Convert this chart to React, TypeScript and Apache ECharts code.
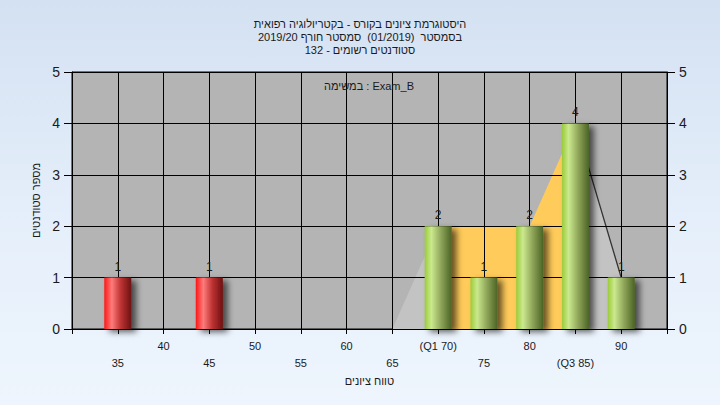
import React, { useEffect, useRef } from "react";
import * as echarts from "echarts";

const titleLines = [
  "היסטוגרמת ציונים בקורס - בקטריולוגיה רפואית",
  "בסמסטר  (01/2019)  סמסטר חורף 2019/20",
  "סטודנטים רשומים - 132",
];
const subtitle = "במשימה : Exam_B";
const xAxisName = "טווח ציונים";
const yAxisName = "מספר סטודנטים";

const scores = [35, 45, 70, 75, 80, 85, 90];
const counts = [1, 1, 2, 1, 2, 4, 1];
const passScore = 60;

const curveX = [65, 70, 75, 80, 85, 90];
const curveY = [0, 2, 2, 2, 4, 1];
const q1 = 70;
const q3 = 85;

const xMin = 30;
const xMax = 95;
const xStep = 5;
const yMin = 0;
const yMax = 5;

const FONT = "'Liberation Sans', 'DejaVu Sans', Arial, sans-serif";

const redGrad = () =>
  new echarts.graphic.LinearGradient(0, 0, 1, 0, [
    { offset: 0, color: "#ff1616" },
    { offset: 0.28, color: "#ff7c7c" },
    { offset: 0.6, color: "#c03434" },
    { offset: 1, color: "#6e1010" },
  ]);
const greenGrad = () =>
  new echarts.graphic.LinearGradient(0, 0, 1, 0, [
    { offset: 0, color: "#9acb3a" },
    { offset: 0.25, color: "#cbe98e" },
    { offset: 0.6, color: "#8fa65a" },
    { offset: 1, color: "#4b6324" },
  ]);

export default function App() {
  const ref = useRef<HTMLDivElement>(null);
  useEffect(() => {
    if (!ref.current) return;
    const chart = echarts.init(ref.current, undefined, { renderer: "svg" });

    const pts = curveX.map((x, i) => [x, curveY[i]]);
    const left = pts.filter((p) => p[0] <= q1);
    const mid = pts.filter((p) => p[0] >= q1 && p[0] <= q3);
    const right = pts.filter((p) => p[0] >= q3);

    const axisLabelFmt = (v: number) => {
      if (v === xMin || v === xMax) return "";
      let s = String(v);
      if (v === q1) s = "(Q1 " + v + ")";
      if (v === q3) s = "(Q3 " + v + ")";
      return v % 10 === 0 ? s : "\n" + s;
    };

    const yAxisBase = {
      type: "value",
      min: yMin,
      max: yMax,
      interval: 1,
      z: 2,
      axisLine: { show: true, lineStyle: { color: "#000", width: 1 } },
      axisTick: { show: true, length: 8, lineStyle: { color: "#000" } },
      axisLabel: { fontSize: 14, color: "#1a1a1a", margin: 12, fontFamily: FONT },
    };

    chart.setOption({
      animation: false,
      textStyle: { fontFamily: FONT },
      title: {
        text: titleLines.join("\n"),
        left: "center",
        top: 12,
        textStyle: { fontSize: 11, fontWeight: "normal", color: "#1a1a1a", lineHeight: 13, fontFamily: FONT },
      },
      grid: {
        left: 72,
        right: 53,
        top: 72,
        bottom: 76,
        show: true,
        backgroundColor: "#b4b4b4",
        borderColor: "#000",
        borderWidth: 1,
      },
      xAxis: {
        type: "value",
        min: xMin,
        max: xMax,
        interval: xStep,
        z: 2,
        name: xAxisName,
        nameLocation: "middle",
        nameGap: 46,
        nameTextStyle: { fontSize: 11, color: "#1a1a1a", fontFamily: FONT },
        axisLine: { show: true, lineStyle: { color: "#000", width: 1 } },
        axisTick: { show: true, length: 5, lineStyle: { color: "#000" } },
        axisLabel: {
          formatter: axisLabelFmt,
          fontSize: 11,
          lineHeight: 17,
          color: "#1a1a1a",
          margin: 8,
          showMinLabel: true,
          showMaxLabel: true,
          fontFamily: FONT,
        },
        splitLine: { show: true, lineStyle: { color: "#000", width: 1 } },
      },
      yAxis: [
        {
          ...yAxisBase,
          position: "left",
          name: yAxisName,
          nameLocation: "middle",
          nameGap: 31,
          nameRotate: 90,
          nameTextStyle: { fontSize: 11, color: "#1a1a1a", fontFamily: FONT },
          splitLine: { show: true, lineStyle: { color: "#000", width: 1 } },
        },
        {
          ...yAxisBase,
          position: "right",
          splitLine: { show: false },
        },
      ],
      graphic: [
        {
          type: "text",
          x: 369,
          y: 86,
          z: 10,
          style: {
            text: subtitle,
            fill: "#1a1a1a",
            font: "11px " + FONT,
            textAlign: "center",
            textVerticalAlign: "middle",
          },
        },
      ],
      series: [
        {
          type: "line",
          data: left,
          z: 1,
          symbol: "none",
          lineStyle: { width: 0 },
          areaStyle: { color: "#c3c3c3", opacity: 1 },
          silent: true,
        },
        {
          type: "line",
          data: mid,
          z: 1,
          symbol: "none",
          lineStyle: { width: 0 },
          areaStyle: { color: "#ffcb5a", opacity: 1 },
          silent: true,
        },
        {
          type: "line",
          data: right,
          z: 1,
          symbol: "none",
          lineStyle: { width: 1.3, color: "#333" },
          areaStyle: { color: "#c3c3c3", opacity: 1 },
          silent: true,
        },
        {
          type: "bar",
          z: 3,
          barWidth: 27,
          data: scores.map((s, i) => ({
            value: [s, counts[i]],
            itemStyle: {
              color: s < passScore ? redGrad() : greenGrad(),
              shadowColor: "rgba(0,0,0,0.6)",
              shadowBlur: 6,
              shadowOffsetX: 5,
              shadowOffsetY: 3,
            },
          })),
          label: {
            show: true,
            position: "top",
            distance: 5,
            formatter: (p: any) => String(p.value[1]),
            fontSize: 12,
            color: "#1a1a1a",
            fontFamily: FONT,
          },
        },
      ],
    });
    return () => chart.dispose();
  }, []);

  return (
    <div
      ref={ref}
      style={{
        position: "absolute",
        left: 0,
        top: 0,
        width: 720,
        height: 405,
        background: "linear-gradient(180deg, #d4e1f2 0%, #e4eefa 50%, #eef5fd 100%)",
      }}
    />
  );
}
